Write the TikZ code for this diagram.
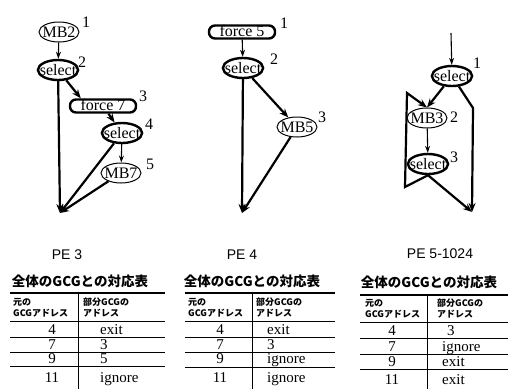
\documentclass[tikz,border=0pt]{standalone}
\usepackage{fontspec}
\setmainfont{Liberation Serif}
\newfontfamily\pefont{Liberation Sans}
\newfontfamily\jpfont{Noto Sans CJK JP}
\usetikzlibrary{shapes.geometric,arrows.meta}

\tikzset{
  sel/.style={ellipse,draw,line width=2.4pt,inner xsep=-4pt,inner ysep=0pt,minimum width=40pt,minimum height=20pt,
    text height=10pt,text depth=0pt,font=\fontsize{16}{16}\selectfont},
  mb/.style={sel,line width=1pt},
  frc/.style={draw,rounded corners=6pt,line width=2.4pt,inner xsep=0pt,inner ysep=2pt,minimum width=66pt,
    text height=9pt,text depth=0pt,font=\fontsize{16}{16}\selectfont},
  num/.style={font=\fontsize{16}{16}\selectfont},
  thn/.style={line width=1.1pt,-{Stealth[length=7pt,width=5pt]}},
  thk/.style={line width=2.2pt,-{Stealth[length=9pt,width=7pt]}},
  pe/.style={font=\pefont\fontsize{14}{14}\selectfont},
  ttl/.style={font=\jpfont\bfseries\fontsize{13.5}{13.5}\selectfont},
  hd/.style={anchor=base west,inner sep=0pt,font=\jpfont\bfseries\fontsize{9}{9}\selectfont},
  val/.style={anchor=base,inner sep=0pt,font=\fontsize{15}{15}\selectfont},
  rul/.style={line width=1pt},
}

\begin{document}
\begin{tikzpicture}[x=1pt,y=-1pt]
	\useasboundingbox (0,0) rectangle (508,389);

	% PE 3
	\node[mb] (mbA) at (59,32) {MB2};
	\node[sel] (selA) at (58,70) {select};
	\node[frc] (frcA) at (103,106) {force 7};
	\node[sel] (selB) at (122,133) {select};
	\node[mb] (mbB) at (121,173) {MB7};
	\coordinate (outA) at (60,213);
	\node[num] (nA1) at (86,22) {1};
	\node[num] (nA2) at (82,62) {2};
	\node[num] (nA3) at (143,96) {3};
	\node[num] (nA4) at (149,124) {4};
	\node[num] (nA5) at (150,164) {5};
	\draw[thn] (mbA) -- (selA);
	\draw[thk] (selA) -- ([xshift=12pt]frcA.north west);
	\draw[thk] (frcA) -- (selB);
	\draw[thn] (selB) -- (mbB);
	\draw[thk] (selA) -- (outA);
	\draw[thk] (selB) -- (outA);
	\draw[thk] (mbB) -- (outA);

	% PE 4
	\node[frc] (frcB) at (242,32) {force 5};
	\node[sel] (selC) at (243,68) {select};
	\node[mb] (mbC) at (297,127) {MB5};
	\coordinate (outB) at (242,213);
	\node[num] (nB1) at (284,23) {1};
	\node[num] (nB2) at (274,59) {2};
	\node[num] (nB3) at (322,117) {3};
	\draw[thn] (frcB) -- (selC);
	\draw[thk] (selC) -- (mbC);
	\draw[thk] (selC) -- (outB);
	\draw[thk] (mbC) -- (outB);

	% PE 5-1024
	\coordinate (inC) at (451,33);
	\node[sel] (selD) at (452,76) {select};
	\node[mb] (mbD) at (427,118) {MB3};
	\node[sel] (selE) at (428,164) {select};
	\coordinate (bendC) at (473,108);
	\coordinate (outC) at (472,212);
	\coordinate (loopA) at (405,187);
	\coordinate (loopB) at (407,93);
	\node[num] (nC1) at (477,63) {1};
	\node[num] (nC2) at (454,117) {2};
	\node[num] (nC3) at (454,157) {3};
	\draw[thn] (inC) -- (selD);
	\draw[thk] (selD) -- (mbD.north);
	\draw[thk] (selD) -- (bendC) -- (outC);
	\draw[thn] (mbD) -- (selE);
	\draw[thk] (selE.south) -- (outC);
	\draw[thk] (selE.south) -- (loopA) -- (loopB) -- (mbD.north);

	% titles
	\node[pe] (peA) at (67,255) {PE 3};
	\node[pe] (peB) at (242,255) {PE 4};
	\node[pe] (peC) at (440,254) {PE 5-1024};
	\node[ttl] (tA) at (80,281) {全体のGCGとの対応表};
	\node[ttl] (tB) at (252,281) {全体のGCGとの対応表};
	\node[ttl] (tC) at (429,282) {全体のGCGとの対応表};

	% table PE 3
	\draw[rul,line width=1.4pt] (10,293) -- (165,293);
	\foreach \y in {321,337,352,366} \draw[rul] (10,\y) -- (165,\y);
	\draw[rul] (78,293) -- (78,389);
	\node[hd] (hA1) at (13,305) {元の};
	\node[hd] (hA2) at (13,316) {GCGアドレス};
	\node[hd] (hA3) at (83,305) {部分GCGの};
	\node[hd] (hA4) at (83,316) {アドレス};
	\foreach \a/\b/\y [count=\i] in {4/exit/334,7/3/349,9/5/363,11/ignore/382}{
		\node[val] (vA\i) at (52,\y) {\a};
		\node[val,anchor=base west] (wA\i) at (100,\y) {\b};
	}

	% table PE 4
	\draw[rul,line width=1.4pt] (185,293) -- (335,293);
	\foreach \y in {321,337,352,367} \draw[rul] (185,\y) -- (335,\y);
	\draw[rul] (252,293) -- (252,389);
	\node[hd] (hB1) at (188,305) {元の};
	\node[hd] (hB2) at (188,316) {GCGアドレス};
	\node[hd] (hB3) at (256,305) {部分GCGの};
	\node[hd] (hB4) at (256,316) {アドレス};
	\foreach \a/\b/\y [count=\i] in {4/exit/334,7/3/349,9/ignore/363,11/ignore/382}{
		\node[val] (vB\i) at (220,\y) {\a};
		\node[val,anchor=base west] (wB\i) at (267,\y) {\b};
	}

	% table PE 5-1024
	\draw[rul,line width=1.4pt] (360,295) -- (508,295);
	\foreach \y in {322,338,354,369} \draw[rul] (360,\y) -- (508,\y);
	\draw[rul] (427,295) -- (427,389);
	\node[hd] (hC1) at (365,306) {元の};
	\node[hd] (hC2) at (365,317) {GCGアドレス};
	\node[hd] (hC3) at (437,306) {部分GCGの};
	\node[hd] (hC4) at (437,317) {アドレス};
	\foreach \a/\b/\x/\y [count=\i] in {4/3/447/335,7/ignore/442/351,9/exit/442/366,11/exit/442/384}{
		\node[val] (vC\i) at (392,\y) {\a};
		\node[val,anchor=base west] (wC\i) at (\x,\y) {\b};
	}
\end{tikzpicture}
\end{document}
